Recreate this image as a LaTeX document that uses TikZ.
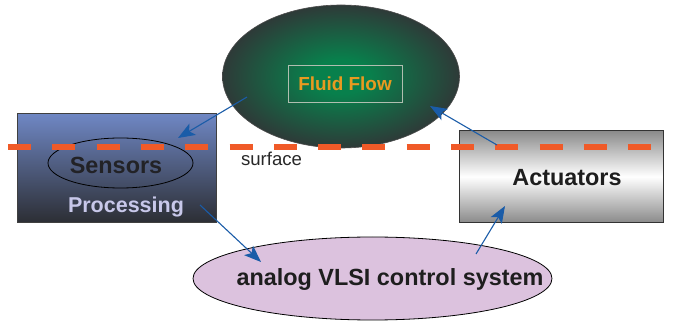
\documentclass[tikz,border=0pt]{standalone}
\usepackage{fontspec}
\setmainfont{Liberation Sans}
\usetikzlibrary{shapes.geometric,arrows.meta}
\definecolor{arrowblue}{HTML}{1A5CA8}
\definecolor{dashorange}{HTML}{F05A28}
\definecolor{flowtext}{HTML}{E89A20}
\definecolor{boxtop}{HTML}{6F87C4}
\definecolor{boxbot}{HTML}{2C2E34}
\definecolor{greyedge}{HTML}{8A8A8A}
\definecolor{vlsifill}{HTML}{DCC2DE}
\definecolor{procText}{HTML}{C8C8EA}
\definecolor{fluidin}{HTML}{08804C}
\definecolor{fluidout}{HTML}{2E3A38}
\pgfdeclareradialshading{fluidshade}{\pgfpoint{0bp}{0bp}}{color(0bp)=(fluidin);color(6bp)=(fluidin);color(25bp)=(fluidout);color(50bp)=(fluidout)}
\tikzset{
  conn/.style={draw=arrowblue, line width=1.1pt, -{Stealth[length=17pt,width=13pt,inset=4pt]}},
  bigtxt/.style={font=\fontsize{23.4}{26}\selectfont\bfseries, inner sep=0pt},
}
\begin{document}
\begin{tikzpicture}[x=1pt,y=-1pt]
\useasboundingbox (0,0) rectangle (673,323);
% left box
\node[draw=black!75, line width=1.2pt, top color=boxtop, bottom color=boxbot,
      minimum width=199pt, minimum height=109pt, inner sep=0pt, anchor=north west] (left) at (17,113) {};
% right box
\node[draw=black!80, line width=1.2pt, top color=greyedge, bottom color=greyedge, middle color=white,
      minimum width=204pt, minimum height=92pt, inner sep=0pt, anchor=north west] (right) at (459,130) {};
% fluid ellipse
\node[ellipse, draw=black!70, line width=0.6pt, shading=fluidshade,
      minimum width=237pt, minimum height=143pt, inner sep=0pt] (fluid) at (341,76.5) {};
\node[draw={rgb,255:red,176;green,190;blue,176}, line width=0.7pt, minimum width=114pt, minimum height=37pt, inner sep=0pt,
      text=flowtext, font=\fontsize{18.9}{22}\selectfont\bfseries] (ff) at (345,83.5) {Fluid Flow};
% sensors ellipse
\node[ellipse, draw=black, line width=0.8pt, minimum width=145pt, minimum height=50pt, inner sep=0pt] (sensE) at (120.5,163) {};
\node[bigtxt, text={rgb,255:red,34;green,34;blue,38}] (sensors) at (116,165) {Sensors};
\node[font=\fontsize{21.5}{24}\selectfont\bfseries, inner sep=0pt, text=procText] (proc) at (126,207) {Processing};
\node[bigtxt, text={rgb,255:red,30;green,30;blue,30}] (act) at (567,178) {Actuators};
% VLSI ellipse
\node[ellipse, draw=black, line width=0.8pt, fill=vlsifill, minimum width=359pt, minimum height=83pt, inner sep=0pt] (vlsi) at (372.5,278.5) {};
\node[bigtxt, text={rgb,255:red,30;green,30;blue,30}] (vlsit) at (390,280) {analog VLSI control system};
% surface line
\coordinate (sl) at (8,147);
\coordinate (sr) at (652,147);
\draw[dashorange, line width=5.5pt, dash pattern=on 23pt off 21.3pt] (sl) -- (sr);
\node[font=\fontsize{18.6}{21}\selectfont, inner sep=0pt, text={rgb,255:red,40;green,40;blue,40}] (surf) at (271.5,159) {surface};
% arrows
\coordinate (a1s) at (247,97);
\coordinate (a1e) at (178,138);
\coordinate (a2s) at (497,145);
\coordinate (a2e) at (430,106);
\coordinate (a3s) at (200,205);
\coordinate (a3e) at (261,262);
\coordinate (a4s) at (476,254);
\coordinate (a4e) at (505,206);
\draw[conn] (a1s) -- (a1e);
\draw[conn] (a2s) -- (a2e);
\draw[conn] (a3s) -- (a3e);
\draw[conn] (a4s) -- (a4e);
\end{tikzpicture}
\end{document}
